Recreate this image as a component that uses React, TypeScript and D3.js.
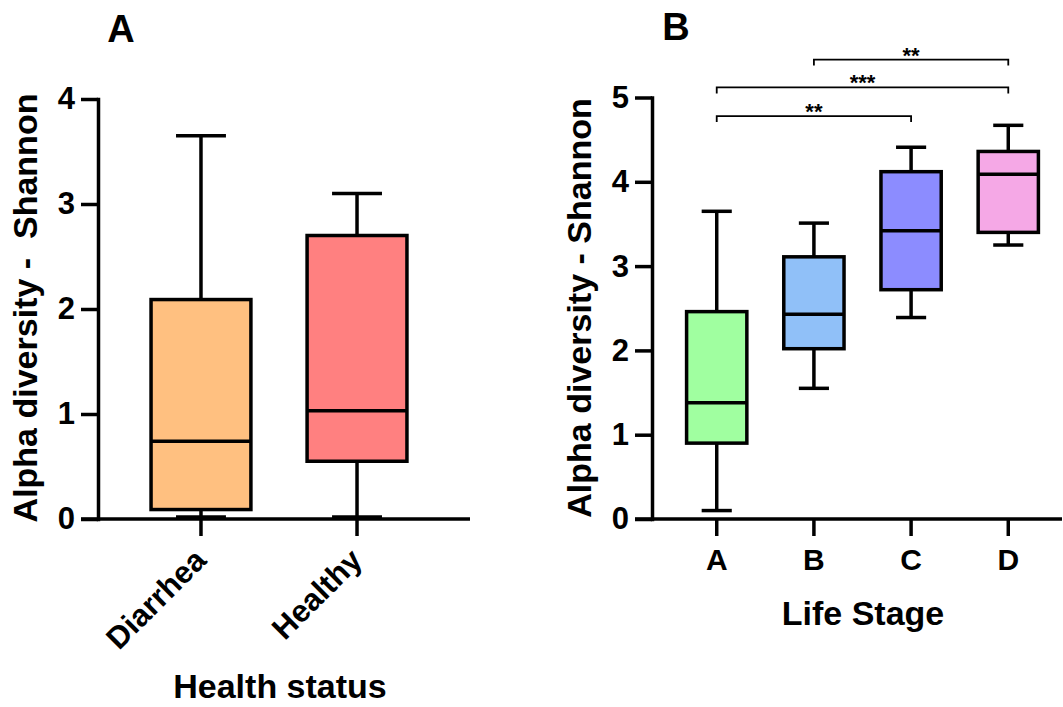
import { useEffect, useRef } from "react";
import * as d3 from "d3";

const FONT = "'Liberation Sans', Arial, Helvetica, sans-serif";
const SW = 3.5;

// Panel A - health status
const healthGroups = ["Diarrhea", "Healthy"];
const healthMin = [0.02, 0.02];
const healthQ1 = [0.09, 0.55];
const healthMedian = [0.74, 1.03];
const healthQ3 = [2.09, 2.7];
const healthMax = [3.65, 3.1];
const healthColors = ["#FFC080", "#FF8080"];

// Panel B - life stage
const stageGroups = ["A", "B", "C", "D"];
const stageMin = [0.1, 1.55, 2.39, 3.25];
const stageQ1 = [0.9, 2.02, 2.72, 3.4];
const stageMedian = [1.38, 2.43, 3.42, 4.09];
const stageQ3 = [2.46, 3.11, 4.12, 4.36];
const stageMax = [3.65, 3.51, 4.41, 4.67];
const stageColors = ["#A0FFA0", "#90C0F8", "#8C8CFF", "#F5A8E6"];

// significance brackets (panel B)
const sigFrom = ["A", "A", "B"];
const sigTo = ["C", "D", "D"];
const sigLabel = ["**", "***", "**"];
const sigLevel = [4.78, 5.12, 5.45];

type Panel = {
  groups: string[];
  min: number[];
  q1: number[];
  med: number[];
  q3: number[];
  max: number[];
  colors: string[];
  yMax: number;
  yTop: number;
  axisX: number;
  xEnd: number;
  lineEnd: number;
  pad: number;
  boxFrac: number;
  rotateLabels: boolean;
};

function drawPanel(svg: any, p: Panel) {
  const g = svg.append("g");
  const y = d3.scaleLinear().domain([0, p.yMax]).range([519, p.yTop]);
  const x = d3.scalePoint<string>().domain(p.groups).range([p.axisX, p.xEnd]).padding(p.pad);
  const bw = x.step() * p.boxFrac;
  const cw = bw / 2;

  // Y axis
  const ya = g.append("g")
    .attr("transform", `translate(${p.axisX},0)`)
    .call(d3.axisLeft(y).tickValues(d3.range(0, p.yMax + 1)).tickSize(17).tickSizeOuter(0).tickPadding(6).tickFormat(d3.format("d")));
  ya.select(".domain").attr("stroke", "#000").attr("stroke-width", SW).attr("stroke-linecap", "square");
  ya.selectAll(".tick line").attr("stroke", "#000").attr("stroke-width", SW);
  ya.selectAll(".tick text")
    .attr("fill", "#000")
    .attr("font-family", FONT)
    .attr("font-size", 31)
    .attr("font-weight", "bold");

  // X axis
  g.append("line")
    .attr("x1", p.axisX - 17).attr("x2", p.lineEnd)
    .attr("y1", y(0)).attr("y2", y(0))
    .attr("stroke", "#000").attr("stroke-width", SW);
  g.selectAll(".xtick").data(p.groups).join("line")
    .attr("x1", (d: string) => x(d)).attr("x2", (d: string) => x(d))
    .attr("y1", y(0)).attr("y2", y(0) + 17)
    .attr("stroke", "#000").attr("stroke-width", SW);

  if (p.rotateLabels) {
    g.selectAll(".xlab").data(p.groups).join("text")
      .attr("transform", (d: string) => `translate(${(x(d) as number) + 7},562) rotate(-45)`)
      .attr("text-anchor", "end")
      .attr("font-family", FONT).attr("font-size", 31).attr("font-weight", "bold")
      .text((d: string) => d);
  } else {
    g.selectAll(".xlab").data(p.groups).join("text")
      .attr("x", (d: string) => x(d)).attr("y", 570)
      .attr("text-anchor", "middle")
      .attr("font-family", FONT).attr("font-size", 30).attr("font-weight", "bold")
      .text((d: string) => d);
  }

  // boxes
  p.groups.forEach((grp, i) => {
    const cx = x(grp) as number;
    const bg = g.append("g");
    bg.append("line").attr("x1", cx).attr("x2", cx).attr("y1", y(p.max[i])).attr("y2", y(p.q3[i]))
      .attr("stroke", "#000").attr("stroke-width", SW);
    bg.append("line").attr("x1", cx).attr("x2", cx).attr("y1", y(p.q1[i])).attr("y2", y(p.min[i]))
      .attr("stroke", "#000").attr("stroke-width", SW);
    bg.append("rect")
      .attr("x", cx - bw / 2).attr("width", bw)
      .attr("y", y(p.q3[i])).attr("height", y(p.q1[i]) - y(p.q3[i]))
      .attr("fill", p.colors[i]).attr("stroke", "#000").attr("stroke-width", SW);
    bg.append("line").attr("x1", cx - bw / 2).attr("x2", cx + bw / 2)
      .attr("y1", y(p.med[i])).attr("y2", y(p.med[i]))
      .attr("stroke", "#000").attr("stroke-width", SW);
    [p.max[i], p.min[i]].forEach((v) => {
      bg.append("line").attr("x1", cx - cw / 2).attr("x2", cx + cw / 2)
        .attr("y1", y(v)).attr("y2", y(v))
        .attr("stroke", "#000").attr("stroke-width", SW);
    });
  });

  return { x, y };
}

export default function App() {
  const svgRef = useRef<SVGSVGElement>(null);

  useEffect(() => {
    const svg = d3.select(svgRef.current);
    svg.selectAll("*").remove();

    drawPanel(svg, {
      groups: healthGroups, min: healthMin, q1: healthQ1, med: healthMedian, q3: healthQ3, max: healthMax,
      colors: healthColors, yMax: 4, yTop: 99, axisX: 98, xEnd: 460, lineEnd: 470, pad: 0.66, boxFrac: 0.64,
      rotateLabels: true,
    });

    const b = drawPanel(svg, {
      groups: stageGroups, min: stageMin, q1: stageQ1, med: stageMedian, q3: stageQ3, max: stageMax,
      colors: stageColors, yMax: 5, yTop: 97.5, axisX: 652, xEnd: 1073, lineEnd: 1062, pad: 0.666, boxFrac: 0.62,
      rotateLabels: false,
    });

    // significance brackets
    sigLabel.forEach((lab, i) => {
      const x1 = b.x(sigFrom[i]) as number;
      const x2 = b.x(sigTo[i]) as number;
      const yy = b.y(sigLevel[i]);
      svg.append("path")
        .attr("d", `M${x1},${yy + 6}V${yy}H${x2}V${yy + 6}`)
        .attr("fill", "none").attr("stroke", "#000").attr("stroke-width", 1.8);
      svg.append("text")
        .attr("x", (x1 + x2) / 2).attr("y", yy + 3)
        .attr("text-anchor", "middle")
        .attr("font-family", FONT).attr("font-size", 22).attr("font-weight", "bold")
        .text(lab);
    });

    // titles
    const txt = (s: string, tr: string, size: number) =>
      svg.append("text")
        .attr("transform", tr)
        .attr("text-anchor", "middle")
        .attr("font-family", FONT).attr("font-size", size).attr("font-weight", "bold")
        .style("white-space", "pre")
        .text(s);

    txt("A", "translate(121,42)", 38);
    txt("B", "translate(676,40)", 38);
    txt("Alpha diversity -  Shannon", "translate(37,308) rotate(-90)", 34);
    txt("Alpha diversity - Shannon", "translate(591,308) rotate(-90)", 34);
    txt("Health status", "translate(280,698)", 34);
    txt("Life Stage", "translate(863,625)", 34);
  }, []);

  return (
    <div style={{ position: "absolute", left: 0, top: 0 }}>
      <svg ref={svgRef} width={1063} height={707} style={{ display: "block", background: "#fff" }} />
    </div>
  );
}
